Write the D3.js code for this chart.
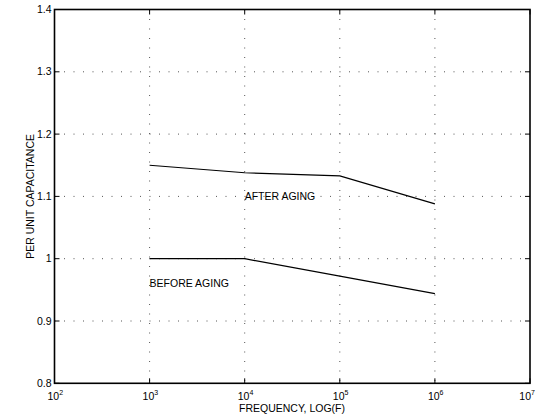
<!DOCTYPE html>
<html><head><meta charset="utf-8">
<script src="https://cdn.jsdelivr.net/npm/d3@7"></script>
<style>body{margin:0;background:#fff}svg{display:block}text{font-family:"Liberation Sans",Arial,sans-serif;fill:#000}</style>
</head><body><svg id="c" width="536" height="418"></svg>
<script>
const freqs = [1e3, 1e4, 1e5, 1e6];
const afterAging = [1.15, 1.138, 1.133, 1.088];
const beforeAging = [1.0, 1.0, 0.972, 0.944];
const xTickExps = [2, 3, 4, 5, 6, 7];
const yTicks = [0.8, 0.9, 1.0, 1.1, 1.2, 1.3, 1.4];
const yTickLabels = ["0.8", "0.9", "1", "1.1", "1.2", "1.3", "1.4"];

const svg = d3.select("#c");
const W = 536;
const L = 54.5, R = 530, T = 9.5, B = 383.3;
const x = d3.scaleLog().domain([1e2, 1e7]).range([L, R]);
const y = d3.scaleLinear().domain([0.8, 1.4]).range([B, T]);
const xt = xTickExps.map(e => Math.pow(10, e));
const fs = 10.5;

// grid
const g = svg.append("g");
g.selectAll(".gx").data(xt.slice(1, -1)).join("line")
  .attr("x1", d => x(d)).attr("x2", d => x(d)).attr("y1", T).attr("y2", B)
  .attr("stroke", "#555").attr("stroke-width", 1).attr("stroke-dasharray", "1,8.5");
g.selectAll(".gy").data(yTicks.slice(1, -1)).join("line")
  .attr("x1", L).attr("x2", R).attr("y1", d => y(d)).attr("y2", d => y(d))
  .attr("stroke", "#555").attr("stroke-width", 1).attr("stroke-dasharray", "1,8.5");

// ticks (inward on all sides)
const tl = 5;
const tk = svg.append("g").attr("stroke", "#000").attr("stroke-width", 1);
xt.forEach(v => {
  tk.append("line").attr("x1", x(v)).attr("x2", x(v)).attr("y1", B).attr("y2", B - tl);
  tk.append("line").attr("x1", x(v)).attr("x2", x(v)).attr("y1", T).attr("y2", T + tl);
});
yTicks.forEach(v => {
  tk.append("line").attr("x1", L).attr("x2", L + tl).attr("y1", y(v)).attr("y2", y(v));
  tk.append("line").attr("x1", R).attr("x2", R - tl).attr("y1", y(v)).attr("y2", y(v));
});

// frame
svg.append("rect").attr("x", L).attr("y", T).attr("width", R - L).attr("height", B - T)
  .attr("fill", "none").attr("stroke", "#000").attr("stroke-width", 1.6);

// tick labels
const xl = svg.append("g").attr("font-size", fs);
xt.forEach((v, i) => {
  const t = xl.append("text").attr("x", x(v) - 7).attr("y", B + 16.5).attr("text-anchor", "start");
  t.append("tspan").text("10");
  t.append("tspan").attr("dy", -4.5).attr("font-size", 7).text(xTickExps[i]);
  const bb = t.node().getBBox();
  if (bb.x + bb.width > W - 1) t.attr("x", W - 1 - bb.width);
});
svg.append("g").attr("font-size", fs).selectAll("text").data(yTicks).join("text")
  .attr("x", L - 3).attr("y", d => y(d) + 3.5).attr("text-anchor", "end")
  .text((d, i) => yTickLabels[i]);

// axis titles
svg.append("text").attr("x", 292).attr("y", 412).attr("text-anchor", "middle").attr("font-size", fs)
  .text("FREQUENCY, LOG(F)");
svg.append("text").attr("transform", "translate(34," + ((T + B) / 2) + ") rotate(-90)")
  .attr("text-anchor", "middle").attr("font-size", fs).text("PER UNIT CAPACITANCE");

// lines
const line = d3.line().x(d => x(d[0])).y(d => y(d[1]));
[afterAging, beforeAging].forEach(s => {
  svg.append("path").attr("d", line(freqs.map((f, i) => [f, s[i]])))
    .attr("fill", "none").attr("stroke", "#000").attr("stroke-width", 1.2);
});

// annotations
svg.append("text").attr("x", x(1e4)).attr("y", y(1.1) + 3.5).attr("font-size", fs).text("AFTER AGING");
svg.append("text").attr("x", x(1e3)).attr("y", y(0.96) + 3.5).attr("font-size", fs).text("BEFORE AGING");
</script></body></html>
